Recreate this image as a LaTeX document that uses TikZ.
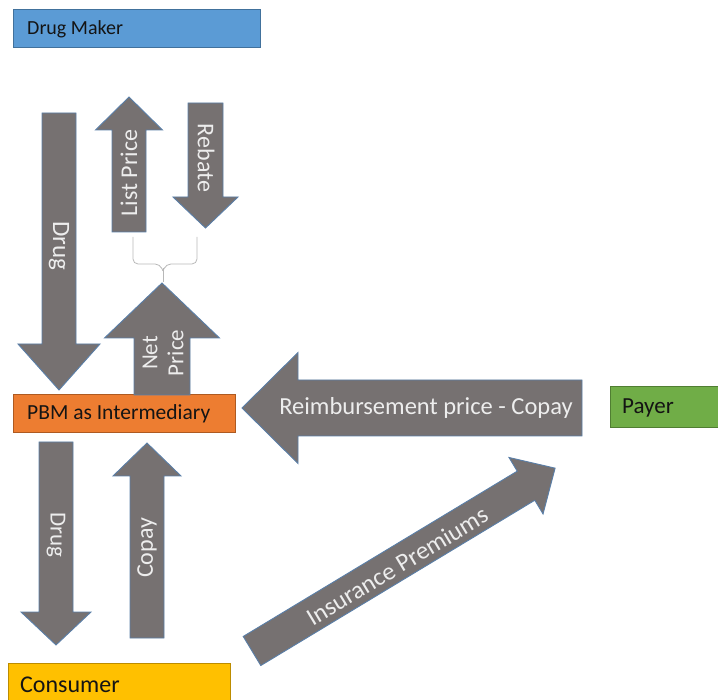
\documentclass[tikz,border=0pt]{standalone}
\usepackage{fontspec}
\setmainfont{Carlito}
\definecolor{agray}{HTML}{767171}
\definecolor{ablue}{HTML}{5A7FA8}
\definecolor{cblue}{HTML}{5B9BD5}
\definecolor{cblueb}{HTML}{41719C}
\definecolor{corange}{HTML}{ED7D31}
\definecolor{corangeb}{HTML}{AE5A21}
\definecolor{cgreen}{HTML}{70AD47}
\definecolor{cgreenb}{HTML}{507E32}
\definecolor{cyellow}{HTML}{FFC000}
\definecolor{cyellowb}{HTML}{BC8C00}
\definecolor{btext}{HTML}{141414}
\tikzset{
  blockarrow/.style={fill=agray, draw=ablue, line width=0.9pt, line join=miter},
  boxshape/.style={line width=1pt},
  boxtext/.style={anchor=west, inner sep=0pt, text=btext, font=\fontsize{#1}{#1}\selectfont},
  arrtext/.style={inner sep=0pt, text=white!93!black, font=\fontsize{#1}{#1}\selectfont},
  bracestyle/.style={draw=black!28, line width=0.8pt, rounded corners=5pt}
}
% #1 tail point, #2 angle, #3 length, #4 shaft half width, #5 head half width, #6 head length
\newcommand\blockarr[6]{%
  \begin{scope}[shift={#1},rotate=#2]
    \path[blockarrow] (0,-#4) -- ({#3-#6},-#4) -- ({#3-#6},-#5) -- (#3,0)
      -- ({#3-#6},#5) -- ({#3-#6},#4) -- (0,#4) -- cycle;
  \end{scope}}
\begin{document}
\begin{tikzpicture}[x=1pt,y=-1pt]
\useasboundingbox (0,0) rectangle (718,700);

% boxes
\filldraw[boxshape, fill=cblue, draw=cblueb] (13,10) rectangle (260,48);
\node[boxtext=20] (maker) at (27,29.5) {Drug Maker};
\filldraw[boxshape, fill=corange, draw=corangeb] (13,395) rectangle (235,433);
\node[boxtext=21.5] (pbm) at (27,414) {PBM as Intermediary};
\filldraw[boxshape, fill=cgreen, draw=cgreenb] (610,387) rectangle (730,428);
\node[boxtext=23] (payer) at (622,408) {Payer};
\filldraw[boxshape, fill=cyellow, draw=cyellowb] (8,663) rectangle (230,712);
\node[boxtext=24] (consumer) at (20,685) {Consumer};

% block arrows
\blockarr{(59,113)}{-90}{277}{17}{41}{46}
\blockarr{(129,232)}{90}{135}{17}{33.5}{33}
\blockarr{(205.5,103)}{-90}{125}{17.5}{32.5}{31}
\blockarr{(162,395)}{90}{112}{28}{57.5}{55}
\blockarr{(582,408)}{180}{340}{28}{55.5}{56}
\blockarr{(56,442)}{-90}{203}{17}{35}{33}
\blockarr{(147,638)}{90}{195}{17}{34}{33}
\blockarr{(252,651)}{31.1}{354}{17}{33}{34}

% brace
\coordinate (bl) at (133,237);
\coordinate (br) at (197,237);
\coordinate (btip) at (163,282);
\draw[bracestyle] (bl) -- (133,264) -- (160,264) -- (163,271);
\draw[bracestyle] (br) -- (197,264) -- (166,264) -- (163,271);
\draw[draw=black!28, line width=0.8pt] (163,268) -- (btip);

% arrow labels
\node[arrtext=25, rotate=-90] (ldrug1) at (59,246) {Drug};
\node[arrtext=24, rotate=90] (llist) at (129,173) {List Price};
\node[arrtext=24, rotate=-90] (lrebate) at (206,158) {Rebate};
\node[arrtext=23, rotate=90, align=center] (lnet) at (163,353) {Net\\[3pt]Price};
\node[arrtext=24.5] (lreimb) at (426,408) {Reimbursement price - Copay};
\node[arrtext=23, rotate=-90] (ldrug2) at (56,535) {Drug};
\node[arrtext=24, rotate=90] (lcopay) at (147,548) {Copay};
\node[arrtext=25, rotate=31.1] (lins) at (397,566) {Insurance Premiums};
\end{tikzpicture}
\end{document}
